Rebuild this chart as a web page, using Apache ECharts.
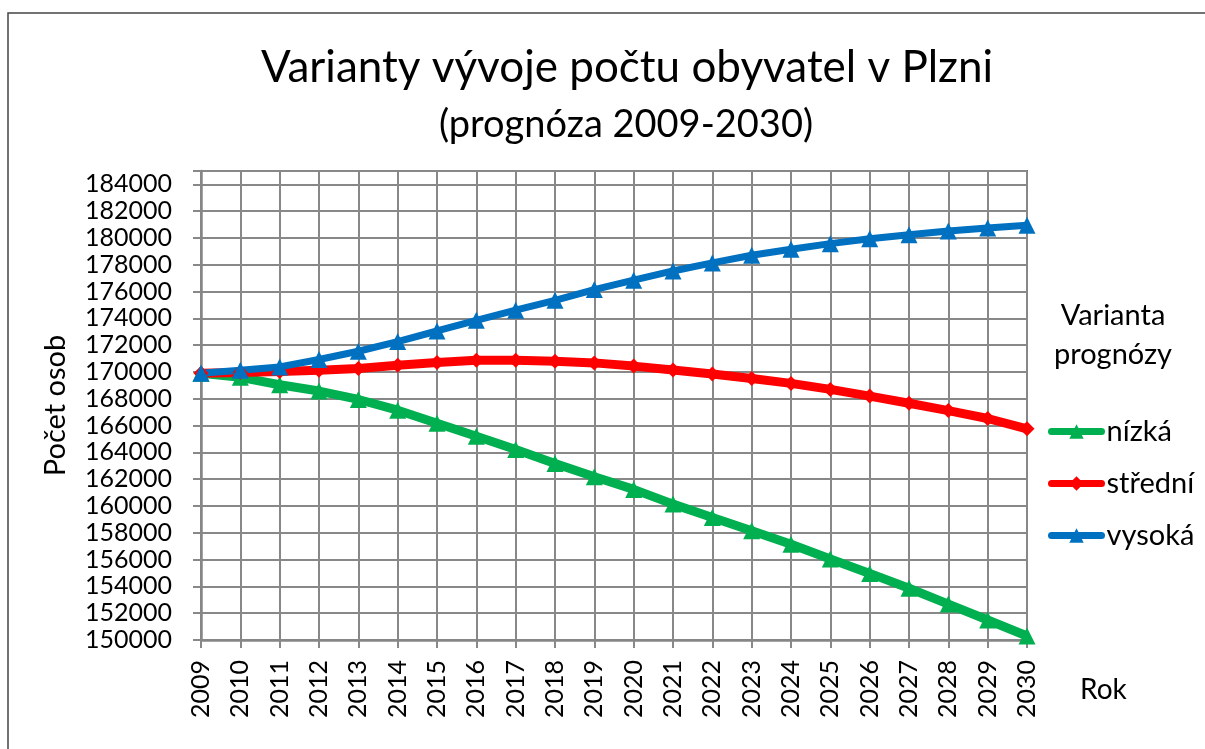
<!DOCTYPE html>
<html>
<head>
<meta charset="utf-8">
<script src="https://cdn.jsdelivr.net/npm/echarts@6/dist/echarts.min.js"></script>
<style>
  html, body { margin: 0; padding: 0; background: #fff; }
  #chart { width: 1205px; height: 749px; }
</style>
</head>
<body>
<div id="chart"></div>
<script>
// Prognóza počtu obyvatel Plzně 2009–2030
const years = ['2009', '2010', '2011', '2012', '2013', '2014', '2015', '2016', '2017', '2018', '2019',
  '2020', '2021', '2022', '2023', '2024', '2025', '2026', '2027', '2028', '2029', '2030']

const nizka = [169900, 169600, 169050, 168580, 167950, 167150, 166170, 165210, 164220, 163180, 162180,
  161240, 160140, 159150, 158150, 157140, 156040, 154970, 153860, 152680, 151490, 150300]

const stredni = [169900, 169960, 170030, 170130, 170260, 170510, 170710, 170880, 170880, 170800, 170680,
  170440, 170150, 169850, 169520, 169150, 168700, 168200, 167670, 167120, 166530, 165760]

const vysoka = [169900, 170130, 170380, 170930, 171550, 172270, 173060, 173860, 174610, 175350, 176150,
  176850, 177540, 178140, 178710, 179160, 179580, 179950, 180250, 180520, 180740, 180950]

const FONT = 'Lato, "Open Sans", sans-serif'
const gridColor = '#888888'

const chart = echarts.init(document.getElementById('chart'))

const option = {
  animation: false,
  backgroundColor: '#fff',
  textStyle: { fontFamily: FONT, color: '#000' },
  title: [
    {
      text: 'Varianty vývoje počtu obyvatel v Plzni',
      left: 622, top: 41, textAlign: 'center',
      textStyle: { fontFamily: FONT, fontSize: 44, fontWeight: 'normal', color: '#000' }
    },
    {
      text: '(prognóza 2009-2030)',
      left: 621, top: 101, textAlign: 'center',
      textStyle: { fontFamily: FONT, fontSize: 38, fontWeight: 'normal', color: '#000' }
    },
    {
      text: 'Varianta',
      left: 1108, top: 296, textAlign: 'center',
      textStyle: { fontFamily: FONT, fontSize: 29, fontWeight: 'normal', color: '#000' }
    },
    {
      text: 'prognózy',
      left: 1108, top: 335, textAlign: 'center',
      textStyle: { fontFamily: FONT, fontSize: 29, fontWeight: 'normal', color: '#000' }
    },
    {
      text: 'Rok',
      left: 1075, top: 671,
      textStyle: { fontFamily: FONT, fontSize: 28, fontWeight: 'normal', color: '#000' }
    }
  ],
  graphic: [{
    type: 'rect',
    shape: { x: 8, y: 13, width: 1230, height: 780 },
    style: { fill: 'none', stroke: '#444', lineWidth: 1.5 },
    silent: true
  }],
  legend: {
    orient: 'vertical',
    left: 1043,
    top: 411,
    itemWidth: 50,
    itemHeight: 18,
    itemGap: 21,
    lineStyle: { width: 7, cap: 'round' },
    textStyle: { fontFamily: FONT, fontSize: 29, lineHeight: 31, color: '#000' },
    data: ['nízká', 'střední', 'vysoká']
  },
  grid: {
    left: 201, right: 178, top: 171, bottom: 109,
    show: true, borderColor: '#000', borderWidth: 1.5
  },
  xAxis: {
    type: 'category',
    data: years,
    boundaryGap: false,
    axisLine: { lineStyle: { color: '#868686', width: 2.5 } },
    axisTick: { show: true, length: 8, lineStyle: { color: gridColor, width: 2 } },
    axisLabel: { rotate: 90, margin: 20, fontSize: 25, color: '#000', fontFamily: FONT },
    splitLine: { show: true, lineStyle: { color: gridColor, width: 2 } }
  },
  yAxis: {
    type: 'value',
    min: 150000,
    max: 185000,
    interval: 2000,
    name: 'Počet osob',
    nameLocation: 'middle',
    nameRotate: 90,
    nameGap: 131,
    nameTextStyle: { fontSize: 29, color: '#000', fontFamily: FONT },
    axisLine: { show: true, lineStyle: { color: '#868686', width: 2.5 } },
    axisTick: { show: true, length: 8, lineStyle: { color: gridColor, width: 2 } },
    axisLabel: {
      margin: 29, fontSize: 25, color: '#000', fontFamily: FONT,
      formatter: v => (v % 2000 === 0 ? String(v) : '')
    },
    splitLine: { show: true, lineStyle: { color: gridColor, width: 2 } }
  },
  series: [
    {
      name: 'nízká',
      type: 'line',
      data: nizka,
      symbol: 'triangle',
      symbolSize: 17,
      lineStyle: { color: '#00B050', width: 9 },
      itemStyle: { color: '#00B050' }
    },
    {
      name: 'střední',
      type: 'line',
      data: stredni,
      symbol: 'diamond',
      symbolSize: 15,
      lineStyle: { color: '#FF0000', width: 9 },
      itemStyle: { color: '#FF0000' }
    },
    {
      name: 'vysoká',
      type: 'line',
      data: vysoka,
      symbol: 'triangle',
      symbolSize: 17,
      lineStyle: { color: '#0070C0', width: 7 },
      itemStyle: { color: '#0070C0' }
    }
  ]
}

chart.setOption(option)
</script>
</body>
</html>
